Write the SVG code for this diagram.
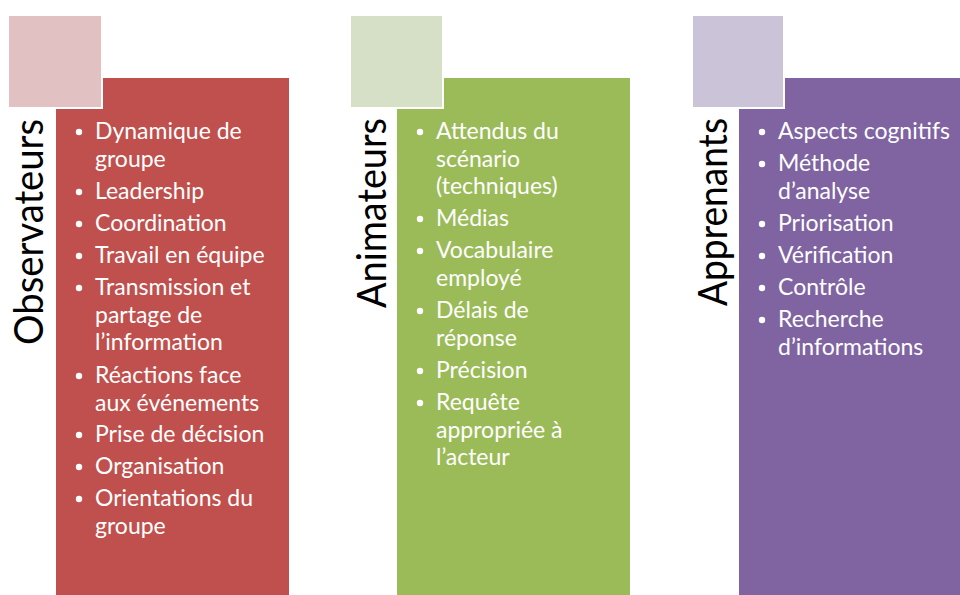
<svg xmlns="http://www.w3.org/2000/svg" width="960" height="595" viewBox="0 0 960 595">
<style>
.item{font-family:Lato,"Open Sans","Liberation Sans",sans-serif;font-size:23px;fill:#ffffff}
.title{font-family:Lato,"Open Sans","Liberation Sans",sans-serif;font-size:40px;fill:#000000}
.sq{stroke:#ffffff;stroke-width:2}
</style>
<defs>
<circle id="dot" r="3.2" fill="#ffffff"/>
</defs>
<rect width="960" height="595" fill="#ffffff"/>
<g id="observateurs">
<rect x="56" y="78" width="233" height="517" fill="#C0504D"/>
<rect class="sq" x="8" y="15" width="94" height="93" fill="#E2C1C2"/>
<text class="title" transform="translate(43,119) rotate(-90)" text-anchor="end" textLength="226" lengthAdjust="spacingAndGlyphs">Observateurs</text>
<g class="item">
<use href="#dot" x="79" y="132"/><text x="95" y="139">Dynamique de</text><text x="95" y="167">groupe</text>
<use href="#dot" x="79" y="192"/><text x="95" y="199">Leadership</text>
<use href="#dot" x="79" y="224"/><text x="95" y="231">Coordination</text>
<use href="#dot" x="79" y="256"/><text x="95" y="263">Travail en équipe</text>
<use href="#dot" x="79" y="288"/><text x="95" y="295">Transmission et</text><text x="95" y="323">partage de</text><text x="95" y="350">l’information</text>
<use href="#dot" x="79" y="376"/><text x="95" y="383">Réactions face</text><text x="95" y="411">aux événements</text>
<use href="#dot" x="79" y="435"/><text x="95" y="442">Prise de décision</text>
<use href="#dot" x="79" y="467"/><text x="95" y="474">Organisation</text>
<use href="#dot" x="79" y="499"/><text x="95" y="506">Orientations du</text><text x="95" y="534">groupe</text>
</g>
</g>
<g id="animateurs">
<rect x="397" y="78" width="233" height="517" fill="#9BBB59"/>
<rect class="sq" x="350" y="15" width="93" height="93" fill="#D6E0C6"/>
<text class="title" transform="translate(386,118) rotate(-90)" text-anchor="end" textLength="190" lengthAdjust="spacingAndGlyphs">Animateurs</text>
<g class="item">
<use href="#dot" x="420" y="132"/><text x="436" y="139">Attendus du</text><text x="436" y="167">scénario</text><text x="436" y="194">(techniques)</text>
<use href="#dot" x="420" y="219"/><text x="436" y="226">Médias</text>
<use href="#dot" x="420" y="251"/><text x="436" y="258">Vocabulaire</text><text x="436" y="286">employé</text>
<use href="#dot" x="420" y="311"/><text x="436" y="318">Délais de</text><text x="436" y="346">réponse</text>
<use href="#dot" x="420" y="371"/><text x="436" y="378">Précision</text>
<use href="#dot" x="420" y="403"/><text x="436" y="410">Requête</text><text x="436" y="438">appropriée à</text><text x="436" y="465">l’acteur</text>
</g>
</g>
<g id="apprenants">
<rect x="739" y="78" width="233" height="517" fill="#8064A2"/>
<rect class="sq" x="692" y="15" width="92" height="93" fill="#CBC3D7"/>
<text class="title" transform="translate(727,118) rotate(-90)" text-anchor="end" textLength="188" lengthAdjust="spacingAndGlyphs">Apprenants</text>
<g class="item">
<use href="#dot" x="762" y="132"/><text x="778" y="139">Aspects cognitifs</text>
<use href="#dot" x="762" y="164"/><text x="778" y="171">Méthode</text><text x="778" y="199">d’analyse</text>
<use href="#dot" x="762" y="224"/><text x="778" y="231">Priorisation</text>
<use href="#dot" x="762" y="256"/><text x="778" y="263">Vérification</text>
<use href="#dot" x="762" y="288"/><text x="778" y="295">Contrôle</text>
<use href="#dot" x="762" y="320"/><text x="778" y="327">Recherche</text><text x="778" y="355">d’informations</text>
</g>
</g>
</svg>
